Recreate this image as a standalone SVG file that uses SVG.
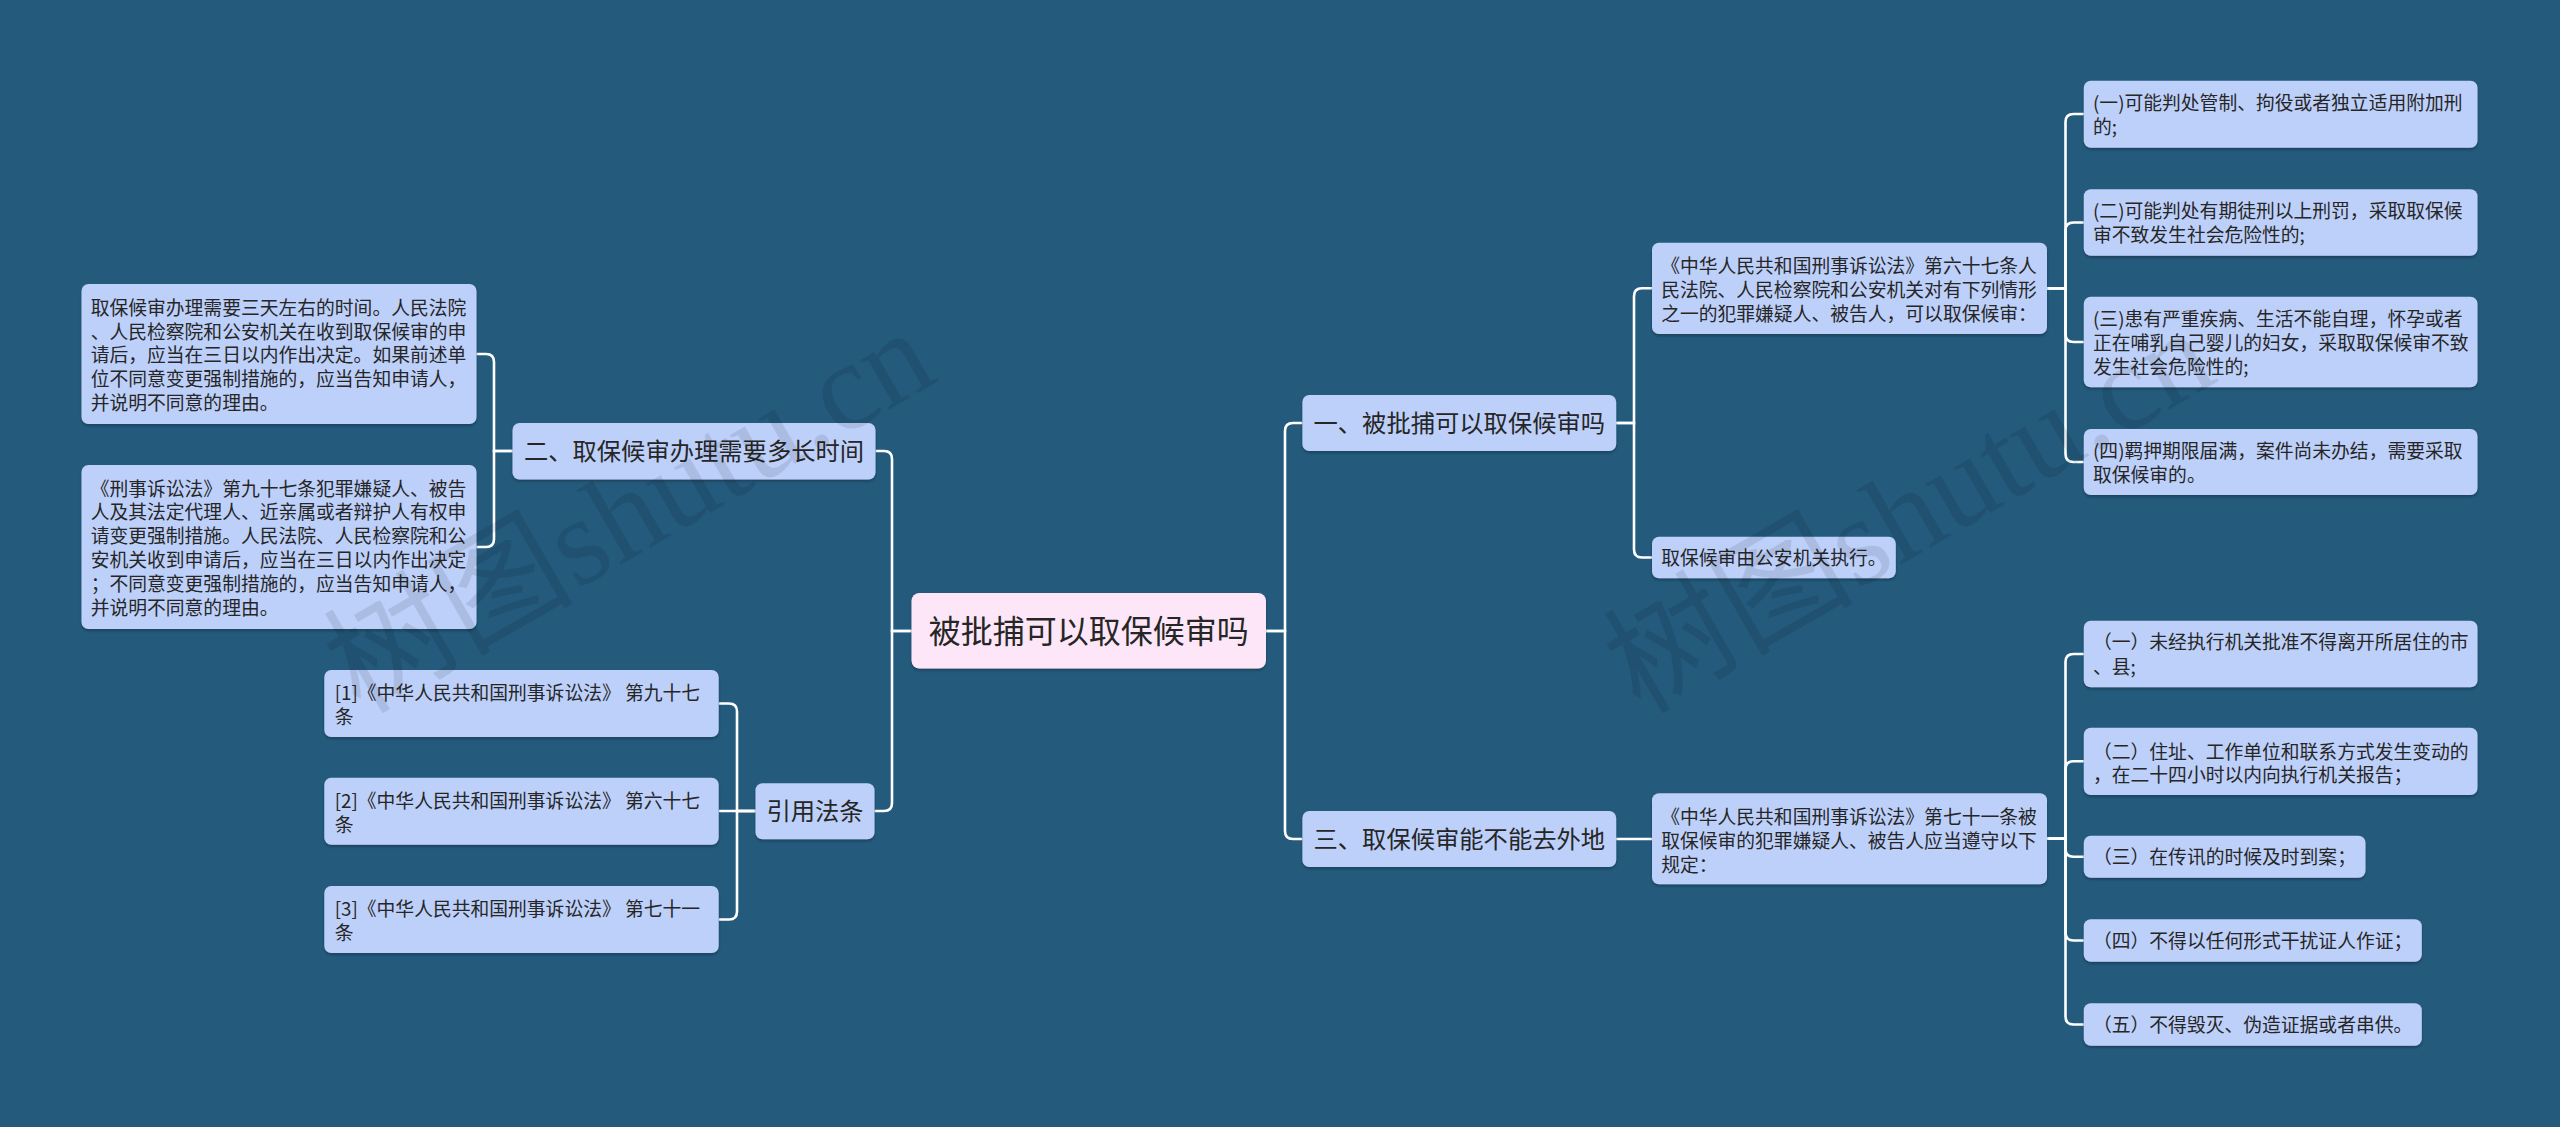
<svg xmlns="http://www.w3.org/2000/svg" width="2560" height="1127" viewBox="0 0 2560 1127">
<style>
.n rect{fill:#bdd0fa;filter:url(#sh)}
.r rect{fill:#fde6f8;filter:url(#sh)}
text{font-family:"Noto Sans CJK SC","Noto Sans",sans-serif;fill:#262626}
.t1{font-size:18.8px}
.t2{font-size:24.3px;text-anchor:middle}
.t0{font-size:32px;text-anchor:middle}
.c path{stroke:#fff;stroke-width:2.6;fill:none}
.wm{font-family:"Liberation Serif","Noto Sans CJK SC",serif;font-size:125px;fill:#000;opacity:0.09}
</style>
<defs>
<filter id="sh" x="-5%" y="-10%" width="110%" height="130%">
<feDropShadow dx="0" dy="2" stdDeviation="1" flood-color="#0e2d44" flood-opacity="0.55"/>
</filter>
</defs>
<rect width="2560" height="1127" fill="#245a7c"/>
<g class="c" id="connectors">
<path d="M911.5,631 H892 V459 Q892,451 884,451 H875.5"/>
<path d="M911.5,631 H892 V803 Q892,811 884,811 H874.5"/>
<path d="M512.5,451 H494 V362 Q494,354 486,354 H476.5"/>
<path d="M512.5,451 H494 V539 Q494,547 486,547 H476.5"/>
<path d="M755.5,811 H737 V711.5 Q737,703.5 729,703.5 H718.7"/>
<path d="M755.5,811 H718.7"/>
<path d="M755.5,811 H737 V911.5 Q737,919.5 729,919.5 H718.7"/>
<path d="M1266,631 H1285 V431 Q1285,423 1293,423 H1302.4"/>
<path d="M1266,631 H1285 V831 Q1285,839 1293,839 H1302.4"/>
<path d="M1616.2,423 H1634 V296.3 Q1634,288.3 1642,288.3 H1652"/>
<path d="M1616.2,423 H1634 V549.5 Q1634,557.5 1642,557.5 H1652"/>
<path d="M2047,288.3 H2065.5 V122 Q2065.5,114 2073.5,114 H2083.8"/>
<path d="M2047,288.3 H2065.5 V230.5 Q2065.5,222.5 2073.5,222.5 H2083.8"/>
<path d="M2047,288.3 H2065.5 V334 Q2065.5,342 2073.5,342 H2083.8"/>
<path d="M2047,288.3 H2065.5 V454 Q2065.5,462 2073.5,462 H2083.8"/>
<path d="M1616.2,839 H1652"/>
<path d="M2047,838.8 H2065.5 V662 Q2065.5,654 2073.5,654 H2083.8"/>
<path d="M2047,838.8 H2065.5 V769.3 Q2065.5,761.3 2073.5,761.3 H2083.8"/>
<path d="M2047,838.8 H2065.5 V848.7 Q2065.5,856.7 2073.5,856.7 H2083.8"/>
<path d="M2047,838.8 H2065.5 V932.5 Q2065.5,940.5 2073.5,940.5 H2083.8"/>
<path d="M2047,838.8 H2065.5 V1016.5 Q2065.5,1024.5 2073.5,1024.5 H2083.8"/>
</g>
<g id="root" class="r"><rect x="911.5" y="593" width="354.5" height="75.5" rx="8"/><text class="t0" x="1088.7" y="643">被批捕可以取保候审吗</text></g>
<g id="n2" class="n"><rect x="512.5" y="423" width="363" height="56.5" rx="7"/><text class="t2" x="694" y="460">二、取保候审办理需要多长时间</text></g>
<g id="n4" class="n"><rect x="755.5" y="783.3" width="119" height="56" rx="7"/><text class="t2" x="815" y="820">引用法条</text></g>
<g id="n1" class="n"><rect x="1302.4" y="395" width="313.8" height="56" rx="7"/><text class="t2" x="1459.3" y="432">一、被批捕可以取保候审吗</text></g>
<g id="n3" class="n"><rect x="1302.4" y="811" width="313.8" height="56" rx="7"/><text class="t2" x="1459.3" y="848">三、取保候审能不能去外地</text></g>
<g id="l1" class="n"><rect x="81.5" y="284" width="395" height="140" rx="7"/><text class="t1" x="90.7"><tspan x="90.7" y="314.7">取保候审办理需要三天左右的时间。人民法院</tspan><tspan x="90.7" y="338.5">、人民检察院和公安机关在收到取保候审的申</tspan><tspan x="90.7" y="362.3">请后，应当在三日以内作出决定。如果前述单</tspan><tspan x="90.7" y="386.1">位不同意变更强制措施的，应当告知申请人，</tspan><tspan x="90.7" y="409.9">并说明不同意的理由。</tspan></text></g>
<g id="l2" class="n"><rect x="81.5" y="465" width="395" height="164" rx="7"/><text class="t1"><tspan x="90.7" y="495.5">《刑事诉讼法》第九十七条犯罪嫌疑人、被告</tspan><tspan x="90.7" y="519.3">人及其法定代理人、近亲属或者辩护人有权申</tspan><tspan x="90.7" y="543.1">请变更强制措施。人民法院、人民检察院和公</tspan><tspan x="90.7" y="566.9">安机关收到申请后，应当在三日以内作出决定</tspan><tspan x="90.7" y="590.7">；不同意变更强制措施的，应当告知申请人，</tspan><tspan x="90.7" y="614.5">并说明不同意的理由。</tspan></text></g>
<g id="f1" class="n"><rect x="324.3" y="670" width="394.4" height="67" rx="7"/><text class="t1"><tspan x="334.7" y="700.3">[1]《中华人民共和国刑事诉讼法》 第九十七</tspan><tspan x="334.7" y="724">条</tspan></text></g>
<g id="f2" class="n"><rect x="324.3" y="777.7" width="394.4" height="67" rx="7"/><text class="t1"><tspan x="334.7" y="808">[2]《中华人民共和国刑事诉讼法》 第六十七</tspan><tspan x="334.7" y="831.7">条</tspan></text></g>
<g id="f3" class="n"><rect x="324.3" y="886" width="394.4" height="67" rx="7"/><text class="t1"><tspan x="334.7" y="916.3">[3]《中华人民共和国刑事诉讼法》 第七十一</tspan><tspan x="334.7" y="940">条</tspan></text></g>
<g id="a" class="n"><rect x="1652" y="242.7" width="395" height="91.3" rx="7"/><text class="t1"><tspan x="1661.2" y="272.7">《中华人民共和国刑事诉讼法》第六十七条人</tspan><tspan x="1661.2" y="296.7">民法院、人民检察院和公安机关对有下列情形</tspan><tspan x="1661.2" y="320.7">之一的犯罪嫌疑人、被告人，可以取保候审：</tspan></text></g>
<g id="b" class="n"><rect x="1652" y="536.7" width="243.8" height="41.6" rx="7"/><text class="t1" x="1661.2" y="564.8">取保候审由公安机关执行。</text></g>
<g id="c" class="n"><rect x="1652" y="793.3" width="395" height="91" rx="7"/><text class="t1"><tspan x="1661.2" y="823.7">《中华人民共和国刑事诉讼法》第七十一条被</tspan><tspan x="1661.2" y="847.7">取保候审的犯罪嫌疑人、被告人应当遵守以下</tspan><tspan x="1661.2" y="871.7">规定：</tspan></text></g>
<g id="r1" class="n"><rect x="2083.8" y="80.7" width="393.7" height="67" rx="7"/><text class="t1"><tspan x="2093" y="110.3">(一)可能判处管制、拘役或者独立适用附加刑</tspan><tspan x="2093" y="134">的;</tspan></text></g>
<g id="r2" class="n"><rect x="2083.8" y="189.3" width="393.7" height="66.4" rx="7"/><text class="t1"><tspan x="2093" y="218.3">(二)可能判处有期徒刑以上刑罚，采取取保候</tspan><tspan x="2093" y="242">审不致发生社会危险性的;</tspan></text></g>
<g id="r3" class="n"><rect x="2083.8" y="296.7" width="393.7" height="90.6" rx="7"/><text class="t1"><tspan x="2093" y="325.5">(三)患有严重疾病、生活不能自理，怀孕或者</tspan><tspan x="2093" y="349.5">正在哺乳自己婴儿的妇女，采取取保候审不致</tspan><tspan x="2093" y="373.5">发生社会危险性的;</tspan></text></g>
<g id="r4" class="n"><rect x="2083.8" y="429" width="393.7" height="66" rx="7"/><text class="t1"><tspan x="2093" y="457.7">(四)羁押期限届满，案件尚未办结，需要采取</tspan><tspan x="2093" y="481.7">取保候审的。</tspan></text></g>
<g id="s1" class="n"><rect x="2083.8" y="620.7" width="393.7" height="66.6" rx="7"/><text class="t1"><tspan x="2093" y="649">（一）未经执行机关批准不得离开所居住的市</tspan><tspan x="2093" y="673.5">、县;</tspan></text></g>
<g id="s2" class="n"><rect x="2083.8" y="727.7" width="393.7" height="67.3" rx="7"/><text class="t1"><tspan x="2093" y="758.7">（二）住址、工作单位和联系方式发生变动的</tspan><tspan x="2093" y="782">，在二十四小时以内向执行机关报告；</tspan></text></g>
<g id="s3" class="n"><rect x="2083.8" y="835.7" width="281.7" height="42" rx="7"/><text class="t1" x="2093" y="863.8">（三）在传讯的时候及时到案；</text></g>
<g id="s4" class="n"><rect x="2083.8" y="919.3" width="338" height="42.4" rx="7"/><text class="t1" x="2093" y="947.6">（四）不得以任何形式干扰证人作证；</text></g>
<g id="s5" class="n"><rect x="2083.8" y="1003.3" width="338" height="42.4" rx="7"/><text class="t1" x="2093" y="1031.6">（五）不得毁灭、伪造证据或者串供。</text></g>
<text class="wm" x="360" y="715" transform="rotate(-30 360 715)">树图shutu.cn</text>
<text class="wm" x="1640" y="715" transform="rotate(-30 1640 715)">树图shutu.cn</text>
</svg>
